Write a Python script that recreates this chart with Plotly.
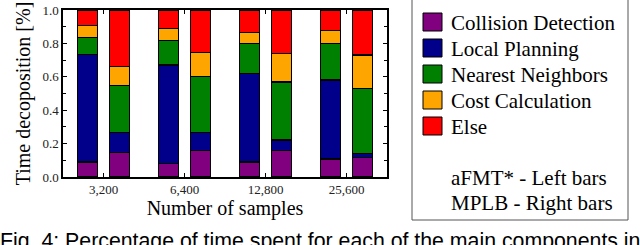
import plotly.graph_objects as go

categories = ["3,200", "6,400", "12,800", "25,600"]
components = ["Collision Detection", "Local Planning", "Nearest Neighbors", "Cost Calculation", "Else"]
colors = ["#800080", "#00008B", "#008000", "#FFA500", "#FF0000"]

afmt_collision = [0.090, 0.080, 0.090, 0.108]
afmt_local = [0.644, 0.590, 0.530, 0.472]
afmt_nn = [0.102, 0.148, 0.180, 0.220]
afmt_cost = [0.072, 0.070, 0.066, 0.078]
afmt_else = [0.092, 0.112, 0.134, 0.122]

mplb_collision = [0.146, 0.158, 0.158, 0.116]
mplb_local = [0.120, 0.110, 0.064, 0.024]
mplb_nn = [0.282, 0.332, 0.346, 0.390]
mplb_cost = [0.112, 0.146, 0.172, 0.200]
mplb_else = [0.340, 0.254, 0.260, 0.270]

legend_notes = ["aFMT* - Left bars", "MPLB - Right bars"]
caption = "Fig. 4: Percentage of time spent for each of the main components in"

afmt = [afmt_collision, afmt_local, afmt_nn, afmt_cost, afmt_else]
mplb = [mplb_collision, mplb_local, mplb_nn, mplb_cost, mplb_else]

SERIF = "Liberation Serif"
W, H = 640, 245
L, R, T, B = 63, 387, 10, 177

fig = go.Figure()
idx = list(range(len(categories)))
for method, offset in ((afmt, -0.2), (mplb, 0.2)):
    for name, vals, col in zip(components, method, colors):
        fig.add_trace(go.Bar(
            x=[i + offset for i in idx], y=vals, width=0.247, name=name,
            marker=dict(color=col, line=dict(color="black", width=1.3)),
            showlegend=False, hoverinfo="y+name"))


def px_x(p):
    return (p - L) / (R - L)


def px_y(p):
    return (B - p) / (B - T)


shapes = []
annotations = []
# legend box
shapes.append(dict(type="rect", xref="paper", yref="paper",
                   x0=px_x(412), x1=px_x(628), y0=px_y(220), y1=px_y(-2),
                   line=dict(color="#555555", width=1), fillcolor="white", layer="below"))
row_y = [22, 48, 74, 100, 126]
for name, col, yy in zip(components, colors, row_y):
    shapes.append(dict(type="rect", xref="paper", yref="paper",
                       x0=px_x(423), x1=px_x(442), y0=px_y(yy + 9), y1=px_y(yy - 9),
                       line=dict(color="black", width=1), fillcolor=col))
    annotations.append(dict(xref="paper", yref="paper", x=px_x(449), y=px_y(yy + 1),
                            xanchor="left", yanchor="middle", showarrow=False, text=name,
                            font=dict(family=SERIF, size=21, color="black")))
for note, yy in zip(legend_notes, [177, 202]):
    annotations.append(dict(xref="paper", yref="paper", x=px_x(449), y=px_y(yy + 1),
                            xanchor="left", yanchor="middle", showarrow=False, text=note,
                            font=dict(family=SERIF, size=21, color="black")))
annotations.append(dict(xref="paper", yref="paper", x=px_x(-2), y=px_y(227),
                        xanchor="left", yanchor="top", showarrow=False, text=caption,
                        font=dict(family="Liberation Sans", size=21.3, color="black")))

fig.update_layout(
    width=W, height=H, margin=dict(l=L, r=W - R, t=T, b=H - B, autoexpand=False),
    barmode="stack", plot_bgcolor="white", paper_bgcolor="white",
    font=dict(family=SERIF, color="black"),
    shapes=shapes, annotations=annotations,
    xaxis=dict(range=[-0.5, 3.5], tickvals=idx, ticktext=categories,
               ticks="inside", ticklen=4, tickcolor="black", mirror="ticks",
               showline=True, linecolor="black", linewidth=1.5, showgrid=False, zeroline=False,
               tickfont=dict(size=13, family=SERIF, color="#222222"),
               title=dict(text="Number of samples", font=dict(size=20, family=SERIF), standoff=4)),
    yaxis=dict(range=[0, 1], dtick=0.2, tickformat=".1f",
               ticks="inside", ticklen=4, tickcolor="black", mirror="ticks",
               showline=True, linecolor="black", linewidth=1.5, showgrid=False, zeroline=False,
               minor=dict(dtick=0.1, ticks="inside", ticklen=3, tickcolor="black"),
               tickfont=dict(size=13, family=SERIF, color="#222222"),
               title=dict(text="Time decoposition [%]", font=dict(size=20, family=SERIF), standoff=6)),
)

fig.write_html("out.html", config={"displayModeBar": False},
               post_script="document.body.style.margin='0';document.body.style.overflow='hidden';")
